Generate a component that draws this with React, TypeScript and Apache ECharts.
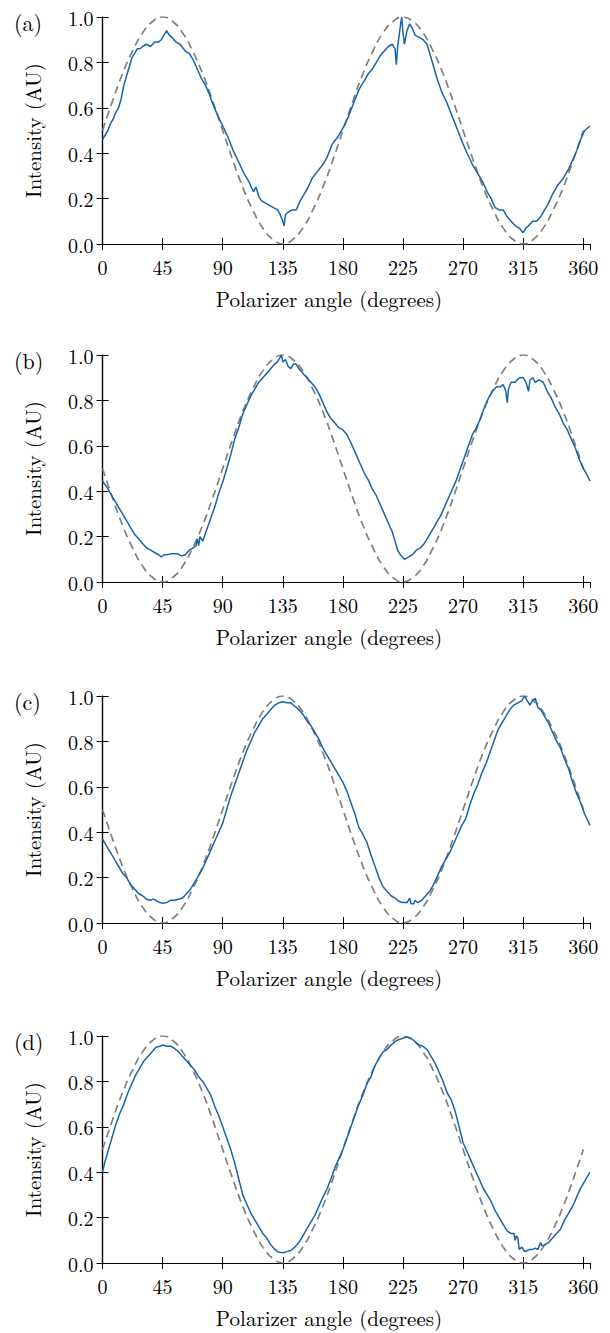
import React, { useEffect, useRef } from "react";
import * as echarts from "echarts";

// ---------- data ----------
const panelLabels = ["(a)", "(b)", "(c)", "(d)"];
const xTickStep = 45;
const yTickStep = 0.2;
const xLabel = "Polarizer angle (degrees)";
const yLabel = "Intensity (AU)";

// dashed fits (7.5 degree steps)
const fitAngles = [0, 7.5, 15, 22.5, 30, 37.5, 45, 52.5, 60, 67.5, 75, 82.5, 90, 97.5, 105, 112.5, 120, 127.5, 135, 142.5, 150, 157.5, 165, 172.5, 180, 187.5, 195, 202.5, 210, 217.5, 225, 232.5, 240, 247.5, 255, 262.5, 270, 277.5, 285, 292.5, 300, 307.5, 315, 322.5, 330, 337.5, 345, 352.5, 360];
const fitPeak45 = [0.5, 0.63, 0.75, 0.85, 0.93, 0.98, 1.0, 0.98, 0.93, 0.85, 0.75, 0.63, 0.5, 0.37, 0.25, 0.15, 0.07, 0.02, 0.0, 0.02, 0.07, 0.15, 0.25, 0.37, 0.5, 0.63, 0.75, 0.85, 0.93, 0.98, 1.0, 0.98, 0.93, 0.85, 0.75, 0.63, 0.5, 0.37, 0.25, 0.15, 0.07, 0.02, 0.0, 0.02, 0.07, 0.15, 0.25, 0.37, 0.5];
const fitPeak135 = [0.5, 0.37, 0.25, 0.15, 0.07, 0.02, 0.0, 0.02, 0.07, 0.15, 0.25, 0.37, 0.5, 0.63, 0.75, 0.85, 0.93, 0.98, 1.0, 0.98, 0.93, 0.85, 0.75, 0.63, 0.5, 0.37, 0.25, 0.15, 0.07, 0.02, 0.0, 0.02, 0.07, 0.15, 0.25, 0.37, 0.5, 0.63, 0.75, 0.85, 0.93, 0.98, 1.0, 0.98, 0.93, 0.85, 0.75, 0.63, 0.5];

// measured intensity [angle, intensity]
const measuredA: [number, number][] = [[0,0.46],[2,0.48],[4,0.50],[6,0.53],[8,0.55],[10,0.58],[12,0.60],[14,0.64],[16,0.70],[18,0.74],[20,0.78],[22,0.82],[24,0.84],[26,0.86],[28,0.86],[30,0.87],[33,0.88],[36,0.87],[39,0.89],[42,0.89],[44,0.90],[46,0.92],[48,0.94],[50,0.92],[52,0.91],[55,0.89],[58,0.88],[62,0.85],[65,0.84],[68,0.81],[71,0.77],[74,0.73],[77,0.70],[80,0.66],[83,0.61],[86,0.57],[90,0.52],[94,0.47],[98,0.41],[102,0.36],[106,0.31],[110,0.27],[113,0.23],[115,0.25],[117,0.21],[119,0.19],[122,0.18],[125,0.17],[128,0.16],[131,0.15],[133,0.13],[135,0.10],[136,0.08],[137,0.13],[139,0.14],[142,0.15],[145,0.15],[148,0.19],[151,0.22],[154,0.25],[157,0.29],[161,0.32],[165,0.35],[168,0.38],[172,0.44],[176,0.47],[180,0.51],[184,0.56],[188,0.62],[192,0.68],[196,0.72],[199,0.75],[202,0.77],[205,0.80],[208,0.83],[211,0.85],[214,0.87],[217,0.88],[219,0.86],[220,0.79],[221,0.87],[223,0.96],[224,1.00],[225,0.93],[226,0.88],[228,0.94],[230,0.97],[232,0.95],[234,0.92],[237,0.91],[240,0.90],[243,0.88],[245,0.84],[248,0.78],[251,0.72],[254,0.67],[258,0.62],[262,0.56],[266,0.50],[270,0.44],[273,0.40],[277,0.35],[281,0.31],[285,0.27],[288,0.23],[291,0.20],[294,0.16],[297,0.15],[300,0.15],[303,0.12],[306,0.10],[309,0.08],[312,0.07],[315,0.05],[317,0.07],[319,0.08],[322,0.10],[325,0.10],[328,0.12],[331,0.15],[334,0.18],[337,0.22],[341,0.26],[345,0.29],[349,0.33],[352,0.37],[355,0.41],[358,0.46],[361,0.50],[365,0.52]];

const measuredB: [number, number][] = [[0,0.445],[3,0.42],[6,0.39],[9,0.36],[12,0.33],[15,0.30],[18,0.27],[21,0.24],[24,0.21],[27,0.19],[30,0.17],[33,0.15],[36,0.14],[39,0.13],[42,0.12],[44,0.11],[46,0.12],[48,0.12],[52,0.125],[56,0.125],[59,0.115],[62,0.12],[65,0.14],[68,0.15],[70,0.16],[71,0.19],[72,0.16],[73,0.20],[75,0.18],[78,0.23],[81,0.28],[84,0.33],[87,0.39],[90,0.44],[93,0.50],[96,0.56],[99,0.63],[102,0.68],[105,0.74],[108,0.78],[111,0.82],[114,0.85],[117,0.88],[120,0.90],[123,0.92],[126,0.94],[129,0.96],[131,0.97],[133,0.99],[134,1.00],[135,0.97],[137,0.98],[139,0.95],[141,0.94],[143,0.96],[145,0.96],[147,0.94],[150,0.92],[153,0.90],[156,0.88],[159,0.86],[162,0.83],[165,0.79],[168,0.75],[171,0.72],[174,0.70],[177,0.68],[180,0.67],[183,0.65],[187,0.60],[190,0.56],[193,0.52],[196,0.48],[199,0.45],[202,0.41],[205,0.38],[208,0.34],[211,0.30],[214,0.26],[217,0.22],[219,0.18],[221,0.14],[223,0.12],[226,0.10],[229,0.11],[232,0.12],[235,0.14],[238,0.15],[241,0.17],[244,0.20],[247,0.23],[250,0.26],[253,0.29],[256,0.33],[259,0.37],[262,0.41],[265,0.45],[268,0.50],[271,0.55],[274,0.60],[277,0.65],[280,0.68],[283,0.72],[286,0.77],[289,0.81],[292,0.84],[295,0.86],[298,0.86],[300,0.87],[302,0.84],[303,0.79],[304,0.85],[306,0.88],[309,0.88],[312,0.90],[315,0.90],[317,0.88],[319,0.84],[320,0.89],[322,0.90],[324,0.88],[327,0.89],[330,0.88],[333,0.84],[336,0.81],[339,0.77],[342,0.74],[345,0.70],[348,0.67],[351,0.63],[354,0.59],[357,0.54],[360,0.50],[363,0.47],[365,0.445]];

const measuredC: [number, number][] = [[0,0.37],[3,0.34],[6,0.31],[9,0.28],[12,0.25],[15,0.22],[18,0.20],[21,0.17],[24,0.15],[27,0.13],[30,0.12],[33,0.105],[36,0.10],[38,0.105],[40,0.10],[43,0.09],[45,0.087],[48,0.09],[51,0.10],[54,0.10],[57,0.105],[60,0.11],[63,0.13],[66,0.15],[69,0.18],[72,0.21],[75,0.24],[78,0.28],[81,0.32],[84,0.36],[87,0.40],[90,0.44],[93,0.50],[96,0.56],[99,0.61],[102,0.66],[105,0.71],[108,0.76],[111,0.80],[114,0.84],[117,0.87],[120,0.90],[123,0.92],[126,0.94],[129,0.96],[132,0.97],[135,0.975],[138,0.97],[141,0.97],[144,0.955],[147,0.94],[150,0.92],[153,0.89],[156,0.87],[159,0.84],[162,0.81],[165,0.77],[168,0.74],[171,0.71],[174,0.68],[177,0.65],[180,0.62],[183,0.58],[186,0.53],[189,0.48],[192,0.42],[195,0.39],[198,0.355],[201,0.30],[204,0.25],[207,0.20],[210,0.16],[213,0.14],[216,0.12],[219,0.11],[222,0.095],[225,0.09],[228,0.09],[230,0.11],[231,0.085],[233,0.085],[234,0.10],[236,0.09],[239,0.10],[242,0.12],[245,0.14],[248,0.17],[251,0.21],[254,0.25],[257,0.28],[260,0.31],[263,0.35],[266,0.39],[269,0.43],[272,0.46],[275,0.52],[278,0.57],[281,0.61],[284,0.66],[287,0.70],[290,0.75],[293,0.80],[296,0.85],[299,0.88],[302,0.91],[305,0.94],[308,0.96],[311,0.97],[314,0.98],[316,1.00],[318,0.98],[320,0.96],[322,0.98],[324,0.99],[326,0.95],[328,0.94],[331,0.91],[334,0.88],[337,0.84],[340,0.80],[343,0.77],[346,0.72],[349,0.68],[352,0.62],[355,0.57],[358,0.53],[361,0.48],[365,0.43]];

const measuredD: [number, number][] = [[0,0.40],[2,0.45],[4,0.49],[7,0.55],[10,0.61],[13,0.66],[16,0.70],[19,0.75],[22,0.79],[25,0.83],[28,0.86],[31,0.89],[34,0.91],[37,0.93],[40,0.95],[43,0.955],[45,0.96],[48,0.955],[51,0.955],[54,0.945],[57,0.93],[60,0.91],[63,0.89],[66,0.87],[69,0.85],[72,0.82],[75,0.80],[78,0.77],[81,0.74],[84,0.69],[87,0.65],[90,0.60],[93,0.55],[96,0.50],[99,0.44],[102,0.37],[105,0.30],[108,0.26],[111,0.22],[114,0.19],[117,0.16],[120,0.13],[123,0.11],[126,0.08],[129,0.06],[132,0.047],[135,0.045],[138,0.05],[141,0.055],[144,0.07],[147,0.09],[150,0.12],[153,0.15],[156,0.18],[159,0.21],[162,0.25],[165,0.29],[168,0.325],[171,0.37],[174,0.42],[177,0.46],[180,0.50],[183,0.55],[186,0.60],[189,0.65],[192,0.70],[195,0.74],[198,0.79],[201,0.82],[204,0.87],[207,0.90],[210,0.93],[213,0.94],[216,0.96],[219,0.975],[222,0.985],[225,0.99],[228,0.995],[231,0.99],[234,0.975],[237,0.96],[240,0.955],[243,0.94],[246,0.91],[249,0.88],[252,0.84],[255,0.80],[258,0.75],[261,0.72],[264,0.67],[267,0.60],[270,0.53],[273,0.49],[276,0.45],[279,0.41],[282,0.37],[285,0.33],[288,0.30],[291,0.27],[294,0.23],[297,0.20],[300,0.17],[303,0.14],[306,0.13],[308,0.13],[309,0.10],[310,0.12],[311,0.11],[312,0.06],[314,0.07],[316,0.05],[318,0.055],[320,0.06],[322,0.06],[324,0.065],[326,0.06],[328,0.09],[329,0.075],[331,0.08],[334,0.09],[337,0.11],[340,0.13],[343,0.15],[346,0.19],[349,0.22],[352,0.25],[355,0.29],[358,0.33],[361,0.36],[365,0.40]];

const measured = [measuredA, measuredB, measuredC, measuredD];
const fits = [fitPeak45, fitPeak135, fitPeak135, fitPeak45];

// ---------- layout / style ----------
const W = 610;
const H = 1333;
const gridLeft = 102.5;
const gridWidth = 487.5;
const gridTops = [17, 355, 696, 1036];
const gridHeight = 227;
const FONT = "Latin Modern Roman";
const TICK_FS = 20;
const NAME_FS = 21;
const BLUE = "#1565ad";
const GREY = "#808080";

export default function App() {
  const ref = useRef<HTMLDivElement>(null);

  useEffect(() => {
    if (!ref.current) return;
    const chart = echarts.init(ref.current, undefined, { renderer: "svg" });

    const axisLine = { show: true, lineStyle: { color: "#000", width: 1.2 } };
    const axisTick = { show: true, inside: true, length: 6, lineStyle: { color: "#000", width: 1 } };

    const grids: any[] = [];
    const xAxes: any[] = [];
    const yAxes: any[] = [];
    const series: any[] = [];
    const graphics: any[] = [];

    gridTops.forEach((top, i) => {
      grids.push({ left: gridLeft, width: gridWidth, top, height: gridHeight, show: false });
      const xBase = {
        gridIndex: i, type: "value", min: 0, max: 365, interval: xTickStep,
        axisLine, axisTick, splitLine: { show: false },
      };
      xAxes.push({
        ...xBase, position: "bottom",
        axisLabel: { show: true, margin: 12, color: "#000", fontFamily: FONT, fontSize: TICK_FS, showMaxLabel: false },
      });
      xAxes.push({ ...xBase, position: "top", axisLabel: { show: false } });
      const yBase = {
        gridIndex: i, type: "value", min: 0, max: 1, interval: yTickStep,
        axisLine, axisTick, splitLine: { show: false },
      };
      yAxes.push({
        ...yBase, position: "left",
        name: yLabel, nameLocation: "middle", nameGap: 60,
        nameTextStyle: { color: "#000", fontFamily: FONT, fontSize: NAME_FS },
        axisLabel: { show: true, margin: 9, color: "#000", fontFamily: FONT, fontSize: TICK_FS, formatter: (v: number) => v.toFixed(1) },
      });
      yAxes.push({ ...yBase, position: "right", axisLabel: { show: false } });

      series.push({
        type: "line", xAxisIndex: 2 * i, yAxisIndex: 2 * i,
        data: fitAngles.map((a, k) => [a, fits[i][k]]),
        smooth: 0.5, showSymbol: false, symbol: "none",
        lineStyle: { color: GREY, width: 1.7, type: [8, 5] },
        z: 2,
      });
      series.push({
        type: "line", xAxisIndex: 2 * i, yAxisIndex: 2 * i,
        data: measured[i],
        showSymbol: false, symbol: "none",
        lineStyle: { color: BLUE, width: 1.5 },
        z: 3,
      });

      graphics.push({
        type: "text", x: 14, y: top + 4,
        style: { text: panelLabels[i], fill: "#000", fontFamily: FONT, fontSize: 22, verticalAlign: "middle" },
      });
      graphics.push({
        type: "text", x: 329, y: top + gridHeight + 54,
        style: { text: xLabel, fill: "#000", fontFamily: FONT, fontSize: NAME_FS, align: "center", verticalAlign: "middle" },
      });
    });

    chart.setOption({
      animation: false,
      backgroundColor: "#fff",
      grid: grids,
      xAxis: xAxes,
      yAxis: yAxes,
      series,
      graphic: graphics,
    });

    return () => chart.dispose();
  }, []);

  return (
    <div
      ref={ref}
      style={{ position: "absolute", left: 0, top: 0, width: W, height: H, background: "#fff" }}
    />
  );
}
